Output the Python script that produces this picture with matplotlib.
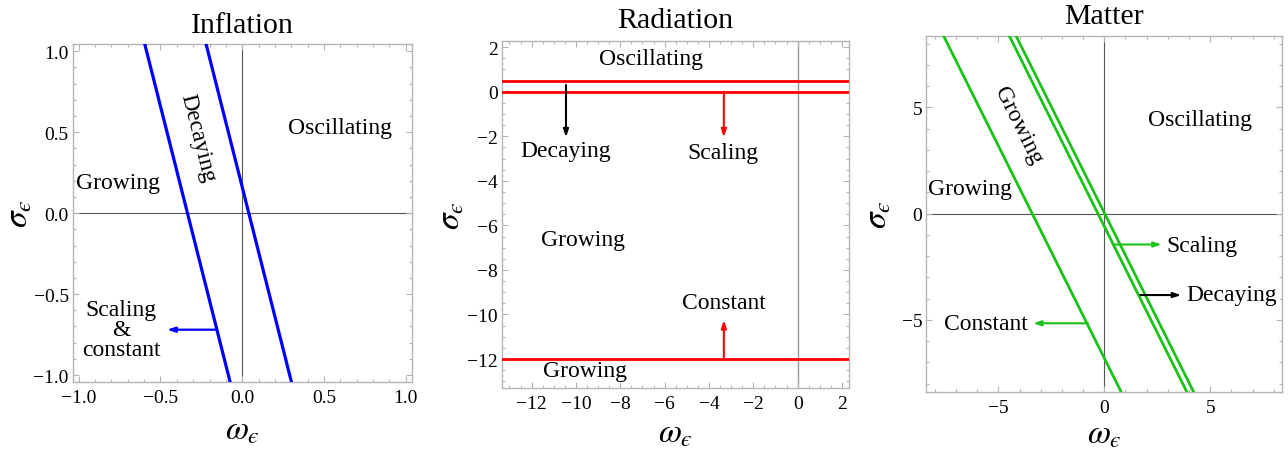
import numpy as np
import matplotlib
matplotlib.use("Agg")
import matplotlib.pyplot as plt
from matplotlib.ticker import MultipleLocator, FuncFormatter

plt.rcParams['font.family'] = ['Liberation Serif', 'DejaVu Serif']
plt.rcParams['mathtext.fontset'] = 'stix'

# ---------------- data ----------------
titles = ["Inflation", "Radiation", "Matter"]

# Inflation: boundary lines sigma = slope*(omega - omega0)
infl_omega0 = [-0.335, 0.04]
infl_slope = [-4.0, -4.0]
infl_xlim = (-1.035, 1.038)
infl_ylim = (-1.045, 1.045)
infl_labels = ["Oscillating", "Growing", "Decaying", "Scaling\n&\nconstant"]
infl_label_x = [0.60, -0.76, -0.27, -0.74]
infl_label_y = [0.527, 0.187, 0.47, -0.72]
infl_arrow_start = (-0.155, -0.72)
infl_arrow_end = (-0.46, -0.72)

# Radiation: horizontal boundaries
rad_levels = [0.5, 0.0, -12.0]
rad_xlim = (-13.35, 2.33)
rad_ylim = (-13.3, 2.29)
rad_labels = ["Oscillating", "Decaying", "Scaling", "Growing", "Constant", "Growing"]
rad_label_x = [-6.62, -10.45, -3.37, -9.68, -3.32, -9.6]
rad_label_y = [1.47, -2.65, -2.75, -6.64, -9.45, -12.52]
rad_arrow_x = [-10.45, -3.33, -3.33]
rad_arrow_y0 = [0.3, 0.0, -12.0]
rad_arrow_y1 = [-2.05, -2.05, -10.25]
rad_arrow_col = ["black", "red", "red"]

# Matter: boundary lines sigma = slope*(omega - omega0)
mat_omega0 = [-3.4, -0.3, 0.02]
mat_slope = [-2.0, -2.0, -2.0]
mat_xlim = (-8.4, 8.4)
mat_ylim = (-8.38, 8.35)
mat_labels = ["Oscillating", "Growing", "Growing", "Scaling", "Decaying", "Constant"]
mat_label_x = [4.5, -6.32, -4.07, 4.61, 5.99, -5.59]
mat_label_y = [4.43, 1.17, 4.2, -1.48, -3.79, -5.16]
mat_arrow_y = [-1.45, -3.83, -5.16]
mat_arrow_x0 = [0.40, 1.70, -0.77]
mat_arrow_x1 = [2.71, 3.63, -3.36]

GREEN = (0.1, 0.76, 0.1)

# ---------------- figure ----------------
fig = plt.figure(figsize=(12.88, 4.52), dpi=100)
W, H = 1288, 452
def axes_px(l, t, r, b):
    return fig.add_axes([l / W, (H - b) / H, (r - l) / W, (b - t) / H])

ax1 = axes_px(73, 45, 412, 383.3)
ax2 = axes_px(501.7, 41.7, 849.3, 389)
ax3 = axes_px(926.3, 37.3, 1282.3, 392.7)

FS_LAB = 17
FS_TICK = 14
FS_TITLE = 21.5
FS_AX = 24

SIG = '$\\sigma_{\u03f5}$'
OME = '$\\omega_{\u03f5}$'

def make_fmt(decimals):
    def f(v, pos):
        s = f"{v:.{decimals}f}"
        if s.startswith('-'):
            if float(s) == 0:
                s = s[1:]
            else:
                s = '\u2212' + s[1:]
        return s
    return FuncFormatter(f)

def style(ax, major, minor, decimals=0):
    for s in ax.spines.values():
        s.set_color('#b4b4b4')
        s.set_linewidth(1.0)
    ax.xaxis.set_major_locator(MultipleLocator(major))
    ax.xaxis.set_minor_locator(MultipleLocator(minor))
    ax.yaxis.set_major_locator(MultipleLocator(major))
    ax.yaxis.set_minor_locator(MultipleLocator(minor))
    ax.tick_params(which='both', direction='in', top=True, right=True,
                   color='#b4b4b4', labelsize=FS_TICK, width=0.8)
    ax.tick_params(which='major', length=4.0)
    ax.tick_params(which='minor', length=2.2)
    ax.tick_params(axis='x', pad=5)
    ax.tick_params(axis='y', pad=3)
    ax.xaxis.set_major_formatter(make_fmt(decimals))
    ax.yaxis.set_major_formatter(make_fmt(decimals))

def labels(ax, title, ylab_off_px, xlab_base_px, width_px, height_px, title_pad):
    ax.text(-ylab_off_px / width_px, 0.5, SIG, transform=ax.transAxes,
            rotation=90, ha='center', va='center', fontsize=FS_AX)
    ax.text(0.5, -xlab_base_px / height_px, OME, transform=ax.transAxes,
            ha='center', va='baseline', fontsize=FS_AX)
    ax.text(0.5, 1 + title_pad / height_px, title, transform=ax.transAxes,
            ha='center', va='baseline', fontsize=FS_TITLE)

ARROW = '-|>,head_length=0.45,head_width=0.15'

# ---- Inflation ----
ax = ax1
ax.set_xlim(*infl_xlim); ax.set_ylim(*infl_ylim)
style(ax, 0.5, 0.1, 1)
ax.axhline(0, color='#555555', lw=0.8, zorder=1)
ax.axvline(0, color='#555555', lw=0.8, zorder=1)
om = np.array(infl_xlim)
for w0, s in zip(infl_omega0, infl_slope):
    ax.plot(om, s * (om - w0), color='blue', lw=2.3, zorder=3)
for t, x, y in zip(infl_labels, infl_label_x, infl_label_y):
    rot = -75.8 if t == "Decaying" else 0
    ax.text(x, y, t, ha='center', va='center', fontsize=FS_LAB, rotation=rot,
            linespacing=0.95)
ax.annotate('', xy=infl_arrow_end, xytext=infl_arrow_start,
            arrowprops=dict(arrowstyle=ARROW, color='blue', lw=1.6,
                            shrinkA=0, shrinkB=0))
labels(ax, titles[0], 54, 56, 339, 338.3, 12)

# ---- Radiation ----
ax = ax2
ax.set_xlim(*rad_xlim); ax.set_ylim(*rad_ylim)
style(ax, 2, 0.5, 0)
ax.axvline(0, color='#999999', lw=1.0, zorder=1)
for lvl in rad_levels:
    ax.axhline(lvl, color='red', lw=2.0, zorder=3)
for t, x, y in zip(rad_labels, rad_label_x, rad_label_y):
    ax.text(x, y, t, ha='center', va='center', fontsize=FS_LAB)
for x, y0, y1, c in zip(rad_arrow_x, rad_arrow_y0, rad_arrow_y1, rad_arrow_col):
    ax.annotate('', xy=(x, y1), xytext=(x, y0),
                arrowprops=dict(arrowstyle=ARROW, color=c, lw=1.5,
                                shrinkA=0, shrinkB=0), zorder=4)
labels(ax, titles[1], 50, 54, 347.6, 347.3, 13.5)

# ---- Matter ----
ax = ax3
ax.set_xlim(*mat_xlim); ax.set_ylim(*mat_ylim)
style(ax, 5, 1, 0)
ax.axhline(0, color='#555555', lw=0.8, zorder=1)
ax.axvline(0, color='#555555', lw=0.8, zorder=1)
om = np.array(mat_xlim)
for w0, s in zip(mat_omega0, mat_slope):
    ax.plot(om, s * (om - w0), color=GREEN, lw=2.0, zorder=3)
for i, (t, x, y) in enumerate(zip(mat_labels, mat_label_x, mat_label_y)):
    rot = -63.5 if i == 2 else 0
    ax.text(x, y, t, ha='center', va='center', fontsize=FS_LAB, rotation=rot)
arrow_cols = [GREEN, 'black', GREEN]
for y, x0, x1, c in zip(mat_arrow_y, mat_arrow_x0, mat_arrow_x1, arrow_cols):
    ax.annotate('', xy=(x1, y), xytext=(x0, y),
                arrowprops=dict(arrowstyle=ARROW, color=c, lw=1.5,
                                shrinkA=0, shrinkB=0), zorder=4)
labels(ax, titles[2], 48, 51, 356, 355.4, 13)

fig.savefig('out.png', dpi=100)
